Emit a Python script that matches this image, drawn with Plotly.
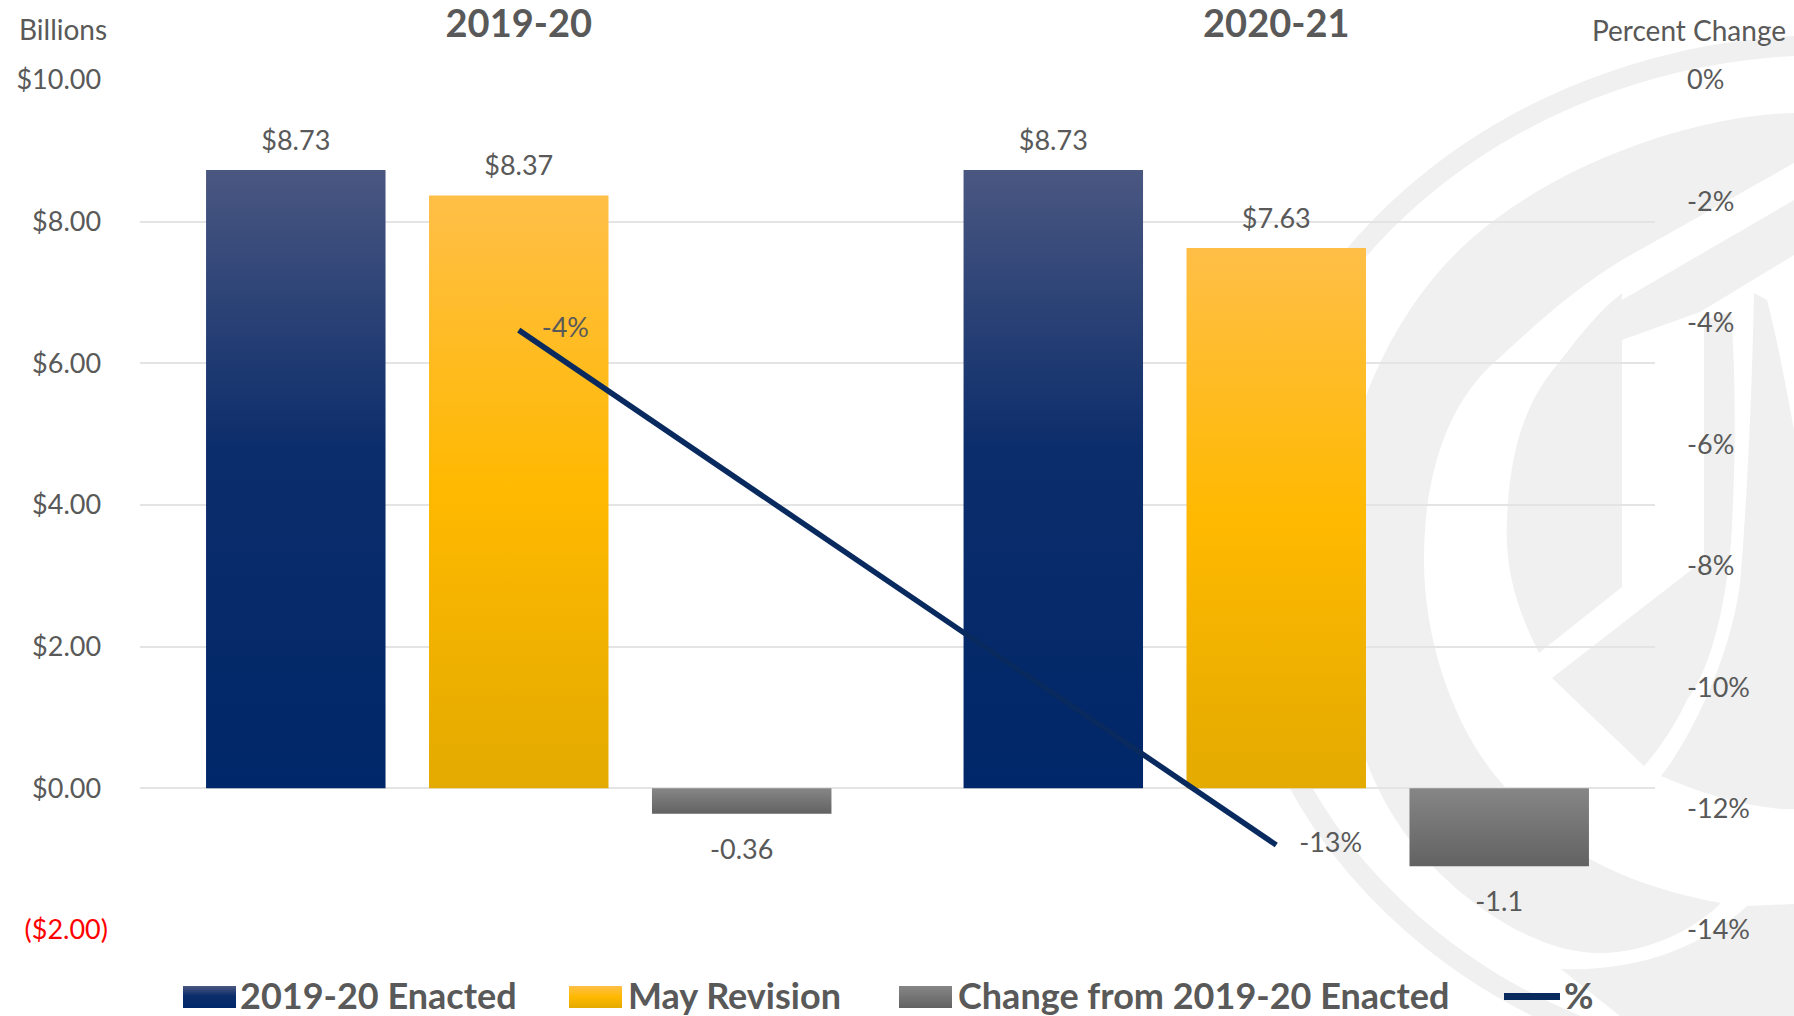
import re
import plotly.graph_objects as go

# ---------------- data ----------------
categories = ["2019-20", "2020-21"]
enacted = [8.73, 8.73]
may_revision = [8.37, 7.63]
change = [-0.36, -1.10]
pct_change = [-4.12, -12.6]
series_names = ["2019-20 Enacted", "May Revision", "Change from 2019-20 Enacted", "%"]

left_tick_vals = [-2, 0, 2, 4, 6, 8, 10]
left_tick_text = ["($2.00)", "$0.00", "$2.00", "$4.00", "$6.00", "$8.00", "$10.00"]
right_tick_vals = [0, -2, -4, -6, -8, -10, -12, -14]
right_tick_text = ["0%", "-2%", "-4%", "-6%", "-8%", "-10%", "-12%", "-14%"]

# ---------------- style ----------------
FONT = "Lato"
GREY_TXT = "#595959"
BLUE = "#12306e"
YELLOW = "#fbb713"
GREY_BAR = "#737373"
LINE = "#082a5e"
WM = "#eff0ef"
BARGAP = 0.117

W_FIG, H_FIG = 1794, 1016
ML, MR, MT, MB = 140, 139, 80, 86
PW, PH = W_FIG - ML - MR, H_FIG - MT - MB


def px(x, y):
    return (x - ML) / PW, (MT + PH - y) / PH


def pxpath(s):
    toks = re.findall(r"[MLCQZ]|-?\d+\.?\d*", s)
    out, nums = [], []
    for t in toks:
        if t in "MLCQZ":
            out.append(t)
        else:
            nums.append(float(t))
            if len(nums) == 2:
                a, b = px(*nums)
                out.append(f"{a:.5f},{b:.5f}")
                nums = []
    return " ".join(out)


fig = go.Figure()

label_font = dict(family=FONT, size=27, color=GREY_TXT)
bar_series = [
    (enacted, series_names[0], BLUE, "a", [f"${v:.2f}" for v in enacted]),
    (may_revision, series_names[1], YELLOW, "b", [f"${v:.2f}" for v in may_revision]),
    (change, series_names[2], GREY_BAR, "c", [f"{v:g}" for v in change]),
]
for vals, name, color, grp, labels in bar_series:
    fig.add_trace(go.Bar(
        x=categories, y=vals, name=name, marker=dict(color=color, line=dict(width=0)),
        offsetgroup=grp, showlegend=False, hoverinfo="skip"))
# data labels, grouped like the bars
for vals, name, color, grp, labels in bar_series:
    neg = all(v < 0 for v in vals)
    fig.add_trace(go.Scatter(
        x=categories, y=vals, mode="markers+text", text=labels,
        textposition="bottom center" if neg else "top center", textfont=label_font,
        marker=dict(size=38 if neg else 20, opacity=0),
        offsetgroup=grp, alignmentgroup="labels", showlegend=False, hoverinfo="skip",
        cliponaxis=False))

fig.add_trace(go.Scatter(
    x=categories, y=pct_change, name=series_names[3], yaxis="y2", mode="lines+markers+text",
    line=dict(color=LINE, width=5.5), marker=dict(size=35, opacity=0),
    text=[f"{round(v)}%" for v in pct_change], textposition="middle right",
    textfont=label_font, cliponaxis=False, showlegend=False,
    offsetgroup="ln", alignmentgroup="ln"))

# ---------------- watermark (decorative logo) ----------------
shapes = []
x0, y0 = px(1830 - 590, 560 - 515)
x1, y1 = px(1830 + 590, 560 + 515)
shapes.append(dict(type="circle", xref="paper", yref="paper", x0=x0, x1=x1, y0=y0, y1=y1,
                   line=dict(color=WM, width=20), fillcolor="rgba(0,0,0,0)", layer="below"))
wm_paths = [
    "M 1794 113 C 1700 115 1560 160 1470 240 C 1380 320 1335 450 1335 560 "
    "C 1335 680 1360 760 1389 809 C 1430 880 1520 950 1594 953 C 1650 955 1700 925 1721 903 "
    "C 1650 890 1560 860 1507 789 C 1460 740 1424 650 1424 560 C 1424 470 1450 400 1497 360 "
    "C 1540 320 1580 285 1622 260 L 1794 163 Z",
    "M 1622 293 L 1622 587 L 1539 653 C 1512 600 1505 560 1507 520 C 1510 440 1530 395 1561 360 "
    "C 1580 335 1600 310 1622 293 Z",
    "M 1622 300 L 1794 200 L 1794 255 L 1700 312 L 1622 340 Z",
    "M 1704 320 L 1731 312 C 1736 380 1736 460 1731 543 C 1725 610 1710 670 1687 700 "
    "C 1675 725 1660 748 1644 766 L 1552 678 L 1704 560 Z",
    "M 1754 293 L 1767 300 C 1775 330 1785 380 1794 430 L 1794 809 L 1781 809 "
    "C 1740 805 1700 793 1661 776 C 1690 740 1735 650 1741 573 C 1748 480 1752 390 1754 293 Z",
    "M 1561 969 C 1640 972 1705 945 1747 906 L 1794 904 L 1794 1016 L 1620 1016 Z",
]
for p in wm_paths:
    shapes.append(dict(type="path", xref="paper", yref="paper", path=pxpath(p),
                       fillcolor=WM, line=dict(width=0), layer="below"))

# ---------------- custom legend ----------------
annotations = []
leg_y_top, leg_y_bot = 986, 1008
swatches = [(183, 236, BLUE), (569, 622, YELLOW), (899, 952, GREY_BAR)]
text_x = [238, 626, 956, 1562]
for (a, b, c) in swatches:
    xa, ya = px(a, leg_y_top)
    xb, yb = px(b, leg_y_bot)
    shapes.append(dict(type="rect", xref="paper", yref="paper", x0=xa, x1=xb, y0=yb, y1=ya,
                       fillcolor=c, line=dict(width=0), layer="above"))
la, ly = px(1504, 996.5)
lb, _ = px(1560, 996.5)
shapes.append(dict(type="line", xref="paper", yref="paper", x0=la, x1=lb, y0=ly, y1=ly,
                   line=dict(color=LINE, width=7), layer="above"))
for name, tx in zip(series_names, text_x):
    ax, ay = px(tx, 995)
    annotations.append(dict(text=name, x=ax, y=ay, xref="paper", yref="paper", xanchor="left",
                            yanchor="middle", showarrow=False,
                            font=dict(family=FONT, size=36, color=GREY_TXT, weight="bold")))

bx, by = px(17, 29)
annotations.append(dict(text="Billions", x=bx, y=by, xref="paper", yref="paper", xanchor="left",
                        yanchor="middle", showarrow=False,
                        font=dict(family=FONT, size=28, color=GREY_TXT)))
cx, cy = px(1788, 30)
annotations.append(dict(text="Percent Change", x=cx, y=cy, xref="paper", yref="paper",
                        xanchor="right", yanchor="middle", showarrow=False,
                        font=dict(family=FONT, size=28, color=GREY_TXT)))

left_labels = [f"<span style='color:#ff0000'>{t}</span>" if v < 0 else t + "\u00a0"
               for v, t in zip(left_tick_vals, left_tick_text)]

fig.update_layout(
    width=W_FIG, height=H_FIG,
    margin=dict(l=ML, r=MR, t=MT, b=MB, pad=0, autoexpand=False),
    paper_bgcolor="white", plot_bgcolor="rgba(0,0,0,0)",
    barmode="group", bargap=BARGAP, bargroupgap=0.195,
    scattermode="group", scattergap=BARGAP,
    showlegend=False,
    font=dict(family=FONT, color=GREY_TXT),
    xaxis=dict(type="category", side="top", showgrid=False, zeroline=False, showline=False,
               ticks="", ticklabelstandoff=34, automargin=False,
               tickfont=dict(family=FONT, size=38, color=GREY_TXT, weight="bold")),
    yaxis=dict(range=[-2, 10], tickvals=left_tick_vals, ticktext=left_labels, automargin=False,
               showgrid=True, gridcolor="#e4e4e4", gridwidth=2, zeroline=False, showline=False,
               ticks="", ticklabelstandoff=31, tickfont=dict(family=FONT, size=27, color=GREY_TXT)),
    yaxis2=dict(range=[-14, 0], overlaying="y", side="right", tickvals=right_tick_vals,
                ticktext=right_tick_text, showgrid=False, zeroline=False, showline=False,
                automargin=False,
                ticks="", ticklabelstandoff=31, tickfont=dict(family=FONT, size=27, color=GREY_TXT)),
    shapes=shapes, annotations=annotations,
)

post_js = r"""
var gd = document.getElementById('{plot_id}');
document.body.style.margin = '0';
document.body.style.overflow = 'hidden';
var NS = 'http://www.w3.org/2000/svg';
var grads = {
  'rgb(18, 48, 110)': ['gBlue', [[0, '#4a5781'], [0.45, '#0c2d6b'], [1, '#002769']]],
  'rgb(251, 183, 19)': ['gYellow', [[0, '#ffbf47'], [0.5, '#ffb900'], [1, '#e3aa00']]],
  'rgb(115, 115, 115)': ['gGrey', [[0, '#868686'], [1, '#626262']]]
};
function ensureDefs() {
  var svg = gd.querySelector('svg.main-svg');
  var defs = svg.querySelector('defs');
  if (!defs) { defs = document.createElementNS(NS, 'defs'); svg.insertBefore(defs, svg.firstChild); }
  Object.keys(grads).forEach(function (k) {
    var id = grads[k][0];
    if (document.getElementById(id)) return;
    var lg = document.createElementNS(NS, 'linearGradient');
    lg.setAttribute('id', id);
    lg.setAttribute('x1', '0'); lg.setAttribute('y1', '0');
    lg.setAttribute('x2', '0'); lg.setAttribute('y2', '1');
    grads[k][1].forEach(function (s) {
      var st = document.createElementNS(NS, 'stop');
      st.setAttribute('offset', s[0]);
      st.setAttribute('stop-color', s[1]);
      lg.appendChild(st);
    });
    defs.appendChild(lg);
  });
}
function applyGrad() {
  ensureDefs();
  gd.querySelectorAll('path').forEach(function (p) {
    var f = p.style.fill;
    if (grads[f]) { p.style.fill = 'url(#' + grads[f][0] + ')'; }
  });
}
applyGrad();
gd.on('plotly_afterplot', applyGrad);
setTimeout(applyGrad, 50);
setTimeout(applyGrad, 300);
"""

fig.write_html("out.html", post_script=post_js, config={"displayModeBar": False})
